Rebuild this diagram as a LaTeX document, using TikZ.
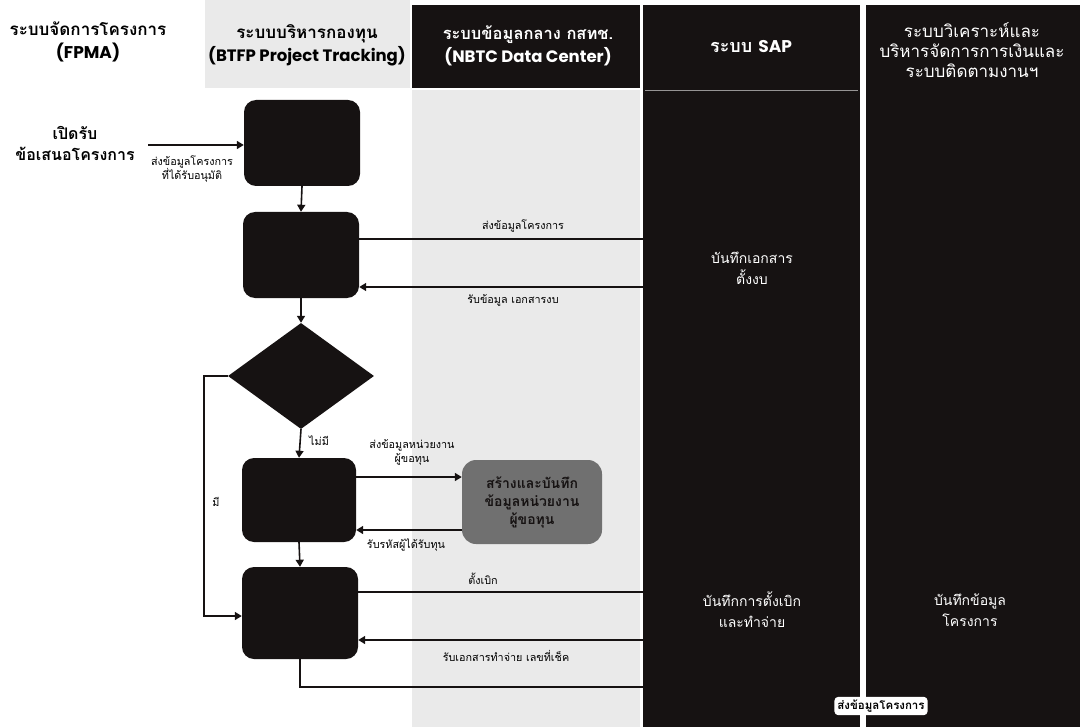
\documentclass[tikz,border=0pt]{standalone}
\usepackage{fontspec}
\setmainfont[Script=Thai]{Loma}
\newfontfamily\lat{Poppins}
\usetikzlibrary{arrows.meta,shapes.geometric}
\definecolor{ink}{RGB}{22,18,18}
\definecolor{speck}{RGB}{234,234,234}
\definecolor{grain}{RGB}{112,112,112}
\begin{document}
\begin{tikzpicture}[x=1pt,y=-1pt,
  blk/.style={fill=ink, rounded corners=12pt, minimum width=116pt, minimum height=86pt, inner sep=0pt},
  dia/.style={diamond, fill=ink, minimum width=146pt, minimum height=106pt, inner sep=0pt},
  arr/.style={draw=ink, line width=1.6pt, -{Triangle[length=7pt,width=8pt]}},
  ln/.style={draw=ink, line width=1.6pt},
  lbl/.style={font=\fontsize{10.8}{14}\selectfont, align=center, inner sep=1pt},
  hdr/.style={font=\bfseries\fontsize{17}{23}\selectfont, align=center},
  whdr/.style={font=\bfseries\fontsize{16.5}{23}\selectfont, align=center, text=white},
  wtxt/.style={font=\fontsize{14}{21}\selectfont, align=center, text=white},
  side/.style={font=\bfseries\fontsize{16}{21}\selectfont, align=center}]
\useasboundingbox (0,0) rectangle (1083,727);
% lanes
\fill[speck] (205,0) rectangle (410,88);
\fill[ink] (412,5) rectangle (640,88);
\fill[speck] (412,90) rectangle (640,727);
\fill[ink] (643,5) rectangle (860,727);
\fill[ink] (866,5) rectangle (1080,727);
\draw[white!55!ink, line width=0.6pt] (645,90) -- (858,90);
% headers
\node[hdr] (h1) at (88,42) {ระบบจัดการโครงการ\\{\lat\bfseries\fontsize{17}{23}\selectfont (FPMA)}};
\node[hdr] (h2) at (307,45) {ระบบบริหารกองทุน\\{\lat\bfseries\fontsize{16.5}{23}\selectfont (BTFP Project Tracking)}};
\node[whdr] (h3) at (528,46) {ระบบข้อมูลกลาง กสทช.\\{\lat\bfseries\fontsize{16.5}{23}\selectfont (NBTC Data Center)}};
\node[whdr, font=\bfseries\fontsize{18}{23}\selectfont] (h4) at (751,47) {ระบบ {\lat\bfseries\fontsize{17}{23}\selectfont SAP}};
\node[wtxt, font=\fontsize{17}{20}\selectfont] (h5) at (972,50) {ระบบวิเคราะห์และ\\บริหารจัดการการเงินและ\\ระบบติดตามงานฯ};
% process nodes
\node[side] (open) at (75,143) {เปิดรับ\\ข้อเสนอโครงการ};
\node[blk] (b1) at (302,143) {};
\node[blk] (b2) at (301,255) {};
\node[dia] (d) at (301,376) {};
\node[blk, minimum height=84pt, minimum width=114pt] (b3) at (299,500) {};
\node[blk, minimum height=92pt] (b4) at (300,613) {};
\node[fill=grain, rounded corners=14pt, minimum width=140pt, minimum height=84pt,
      font=\bfseries\fontsize{14}{18}\selectfont, align=center, text=ink] (g) at (532,502)
      {สร้างและบันทึก\\ข้อมูลหน่วยงาน\\ผู้ขอทุน};
\node[wtxt] (sap1) at (752,268) {บันทึกเอกสาร\\ตั้งงบ};
\node[wtxt] (sap2) at (752,610) {บันทึกการตั้งเบิก\\และทำจ่าย};
\node[wtxt] (rep) at (970,610) {บันทึกข้อมูล\\โครงการ};
% free ends in SAP lane
\coordinate (o1) at (148,145);
\coordinate (s1) at (686,239);
\coordinate (s2) at (686,287);
\coordinate (s3) at (686,592);
\coordinate (s4) at (686,640);
\coordinate (loopx) at (204,376);
\coordinate (botx) at (855,687);
% connectors
\draw[arr] (o1) -- (b1.west |- o1);
\node[lbl] (l0) at (192,169) {ส่งข้อมูลโครงการ\\ที่ได้รับอนุมัติ};
\draw[arr] (b1.south) -- (b2.north);
\draw[ln] (b2.east |- s1) -- (s1);
\node[lbl] (l1) at (523,226) {ส่งข้อมูลโครงการ};
\draw[arr] (s2) -- (b2.east |- s2);
\node[lbl] (l2) at (513,300) {รับข้อมูล เอกสารงบ};
\draw[arr] (b2.south) -- (d.north);
\draw[arr] (d.south) -- (b3.north);
\node[lbl, anchor=west] (l3) at (308,441) {ไม่มี};
\draw[arr] (d.west) -- (loopx) -- (loopx |- 0,616) -- (b4.west |- 0,616);
\node[lbl] (l4) at (216,502) {มี};
\draw[arr] (b3.east |- 0,477) -- (g.west |- 0,477);
\node[lbl] (l5) at (412,452) {ส่งข้อมูลหน่วยงาน\\ผู้ขอทุน};
\draw[arr] (g.west |- 0,530) -- (b3.east |- 0,530);
\node[lbl] (l6) at (406,545) {รับรหัสผู้ได้รับทุน};
\draw[arr] (b3.south) -- (b4.north);
\draw[ln] (b4.east |- s3) -- (s3);
\node[lbl] (l7) at (483,579) {ตั้งเบิก};
\draw[arr] (s4) -- (b4.east |- s4);
\node[lbl] (l8) at (506,656) {รับเอกสารทำจ่าย เลขที่เช็ค};
\draw[ln] (b4.south) -- (b4.south |- botx) -- (botx);
\node[lbl, fill=white, rounded corners=4pt, inner sep=3pt, font=\bfseries\fontsize{11.5}{13}\selectfont] (l9) at (881,706) {ส่งข้อมูลโครงการ};
\end{tikzpicture}
\end{document}
